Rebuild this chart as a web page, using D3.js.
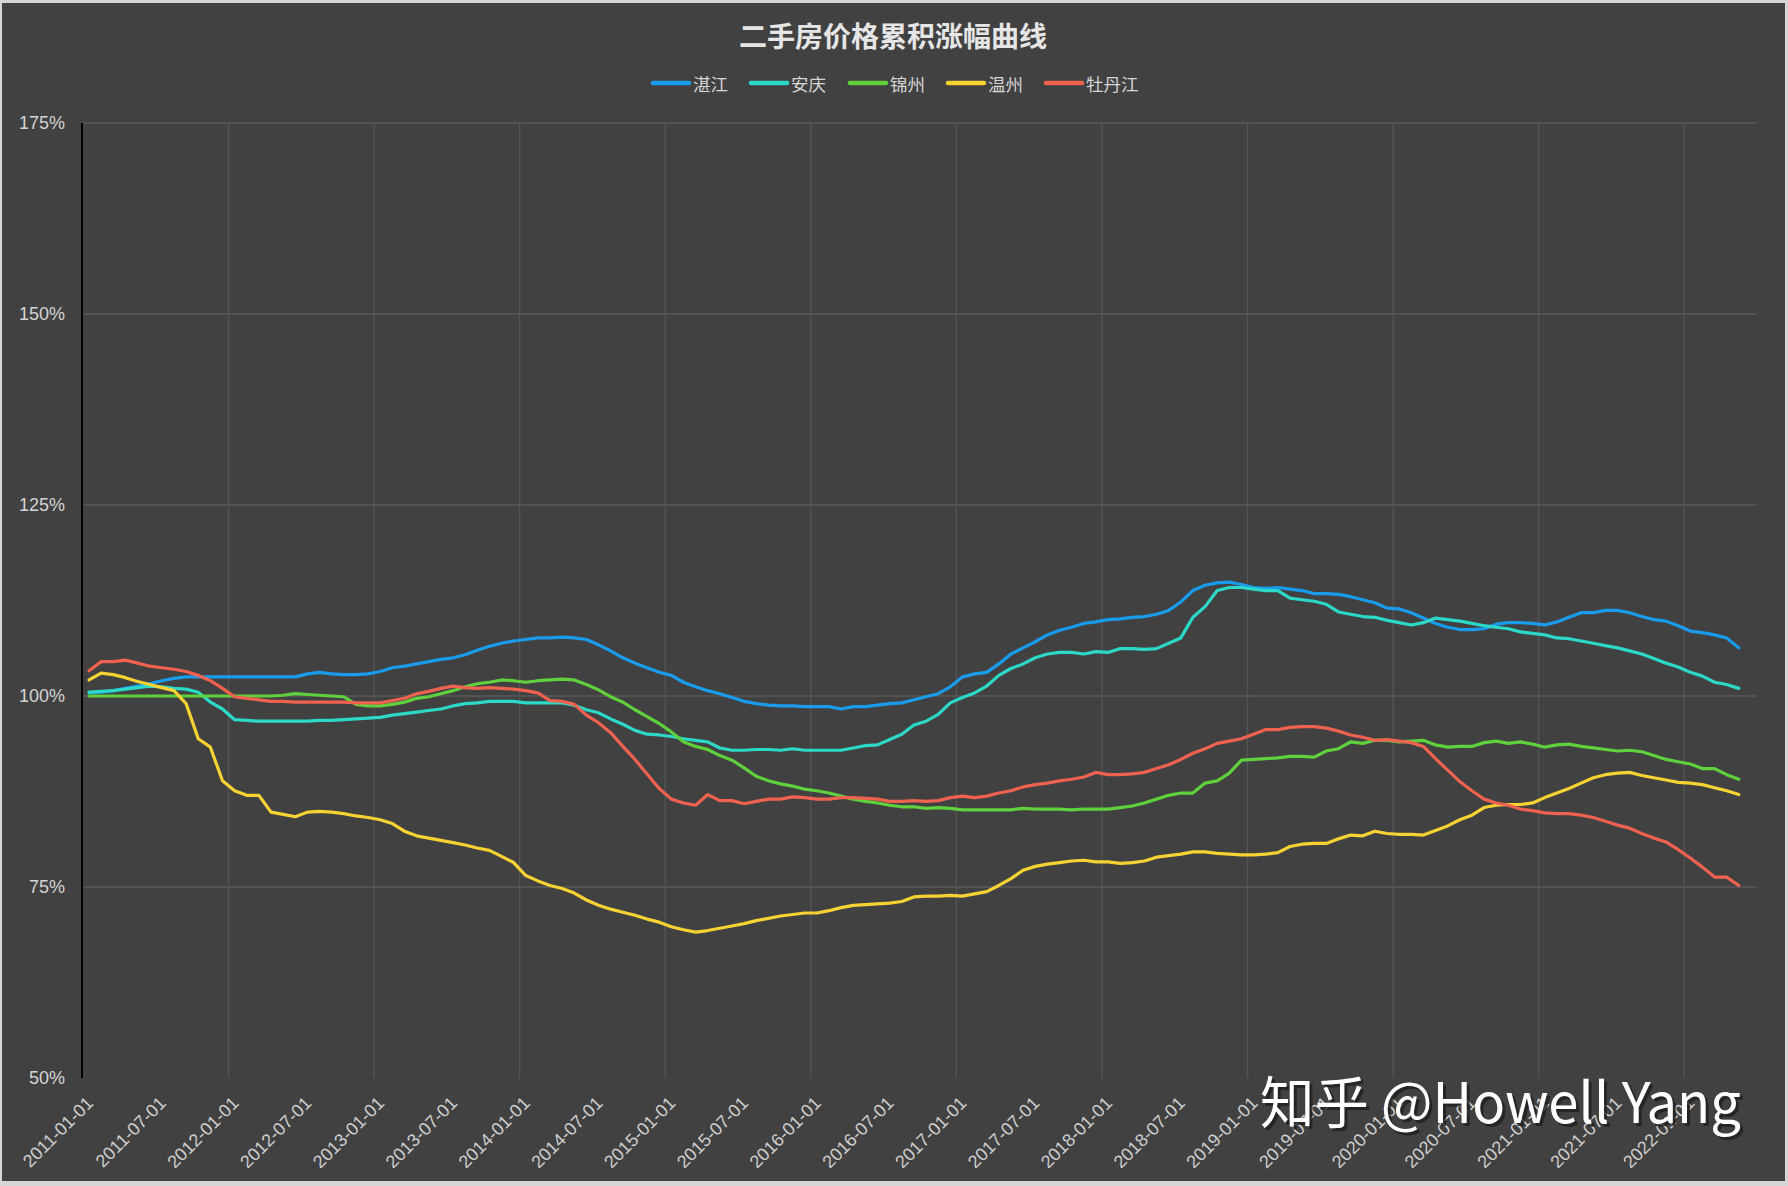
<!DOCTYPE html>
<html>
<head>
<meta charset="utf-8">
<script src="https://cdn.jsdelivr.net/npm/d3@7"></script>
<style>
html,body{margin:0;padding:0;background:#dcdcdc;}
svg{display:block;}
</style>
</head>
<body>
<svg id="chart" width="1788" height="1186"></svg>
<script>
// ---------------- DATA ----------------
const title = "二手房价格累积涨幅曲线";
const seriesNames = ["湛江", "安庆", "锦州", "温州", "牡丹江"];
const seriesColors = ["#1a9cec", "#2cd9c8", "#5fd13d", "#f7d233", "#ef6250"];

// monthly categories 2011-01 .. 2022-06
const startYear = 2011, monthCount = 138;
const categories = [];
for (let i = 0; i < monthCount; i++) {
  const yy = startYear + Math.floor(i / 12), mm = (i % 12) + 1;
  categories.push(yy + "-" + String(mm).padStart(2, "0") + "-01");
}
const xTickLabels = ["2011-01-01","2011-07-01","2012-01-01","2012-07-01","2013-01-01","2013-07-01",
  "2014-01-01","2014-07-01","2015-01-01","2015-07-01","2016-01-01","2016-07-01","2017-01-01",
  "2017-07-01","2018-01-01","2018-07-01","2019-01-01","2019-07-01","2020-01-01","2020-07-01",
  "2021-01-01","2021-07-01","2022-01-01"];
const gridYears = ["2012-01-01","2013-01-01","2014-01-01","2015-01-01","2016-01-01","2017-01-01",
  "2018-01-01","2019-01-01","2020-01-01","2021-01-01","2022-01-01"];
const yTicks = [50, 75, 100, 125, 150, 175];

const zhanjiang = [100.4,100.5,100.7,101.0,101.3,101.6,102.0,102.3,102.5,102.5,
102.5,102.5,102.5,102.5,102.5,102.5,102.5,102.5,102.9,103.1,
102.9,102.8,102.8,102.9,103.2,103.7,103.9,104.2,104.5,104.8,
105.0,105.4,106.0,106.5,106.9,107.2,107.4,107.6,107.6,107.7,
107.6,107.4,106.7,105.9,105.0,104.3,103.7,103.1,102.7,101.8,
101.2,100.7,100.3,99.8,99.3,99.0,98.8,98.7,98.7,98.6,
98.6,98.6,98.3,98.6,98.6,98.8,99.0,99.1,99.5,99.9,
100.3,101.2,102.5,102.9,103.1,104.2,105.5,106.3,107.1,108.0,
108.6,109.0,109.5,109.7,110.0,110.1,110.3,110.4,110.7,111.2,
112.3,113.8,114.5,114.8,114.9,114.6,114.2,114.1,114.2,114.0,
113.8,113.4,113.4,113.3,113.0,112.6,112.2,111.5,111.4,110.9,
110.2,109.5,109.0,108.7,108.7,108.8,109.4,109.6,109.6,109.5,
109.3,109.7,110.3,110.9,110.9,111.2,111.2,110.9,110.4,110.0,
109.8,109.2,108.5,108.3,108.0,107.6,106.3];

const anqing = [100.5,100.6,100.7,100.9,101.1,101.3,101.2,101.0,100.9,100.5,
99.2,98.3,96.9,96.8,96.7,96.7,96.7,96.7,96.7,96.8,
96.8,96.9,97.0,97.1,97.2,97.5,97.7,97.9,98.1,98.3,
98.7,99.0,99.1,99.3,99.3,99.3,99.1,99.1,99.1,99.1,
98.8,98.2,97.8,97.0,96.3,95.5,95.0,94.9,94.7,94.4,
94.2,94.0,93.2,92.9,92.9,93.0,93.0,92.9,93.1,92.9,
92.9,92.9,92.9,93.2,93.5,93.6,94.3,95.0,96.2,96.7,
97.6,99.1,99.8,100.4,101.3,102.7,103.6,104.2,105.0,105.5,
105.7,105.7,105.5,105.8,105.7,106.2,106.2,106.1,106.2,106.9,
107.6,110.3,111.7,113.8,114.2,114.2,114.0,113.8,113.8,112.8,
112.6,112.4,112.0,111.0,110.7,110.4,110.3,109.9,109.6,109.3,
109.6,110.2,110.0,109.8,109.5,109.2,109.0,108.8,108.4,108.2,
108.0,107.6,107.5,107.2,106.9,106.6,106.3,105.9,105.5,104.9,
104.3,103.8,103.1,102.6,101.8,101.5,101.0];

const jinzhou = [100,100,100,100,100,100,100,100,100,100,
100,100,100,100,100,100,100.1,100.3,100.2,100.1,
100.0,99.9,98.9,98.7,98.7,98.9,99.2,99.7,99.9,100.3,
100.7,101.2,101.6,101.8,102.1,102.0,101.8,102.0,102.1,102.2,
102.1,101.5,100.8,99.9,99.2,98.2,97.3,96.4,95.3,94.0,
93.4,93.0,92.2,91.6,90.6,89.5,88.9,88.5,88.2,87.8,
87.6,87.3,86.9,86.5,86.2,86.0,85.7,85.5,85.5,85.3,
85.4,85.3,85.1,85.1,85.1,85.1,85.1,85.3,85.2,85.2,
85.2,85.1,85.2,85.2,85.2,85.4,85.6,86.0,86.5,87.0,
87.3,87.3,88.6,88.9,89.9,91.6,91.7,91.8,91.9,92.1,
92.1,92.0,92.8,93.1,94.0,93.8,94.2,94.2,94.0,94.1,
94.2,93.6,93.3,93.4,93.4,93.9,94.1,93.8,94.0,93.7,
93.3,93.6,93.7,93.4,93.2,93.0,92.8,92.9,92.7,92.2,
91.7,91.4,91.1,90.5,90.5,89.7,89.1];

const wenzhou = [102.1,103.0,102.8,102.4,101.9,101.5,101.1,100.7,99.0,94.4,
93.3,88.9,87.6,87.0,87.0,84.8,84.5,84.2,84.8,84.9,
84.8,84.6,84.3,84.1,83.8,83.3,82.3,81.7,81.4,81.1,
80.8,80.5,80.1,79.8,79.0,78.2,76.5,75.8,75.2,74.8,
74.2,73.3,72.6,72.1,71.7,71.3,70.8,70.4,69.8,69.4,
69.1,69.3,69.6,69.9,70.2,70.6,70.9,71.2,71.4,71.6,
71.6,71.9,72.3,72.6,72.7,72.8,72.9,73.1,73.7,73.8,
73.8,73.9,73.8,74.1,74.4,75.2,76.1,77.2,77.7,78.0,
78.2,78.4,78.5,78.3,78.3,78.1,78.2,78.4,78.9,79.1,
79.3,79.6,79.6,79.4,79.3,79.2,79.2,79.3,79.5,80.3,
80.6,80.7,80.7,81.3,81.8,81.7,82.3,82.0,81.9,81.9,
81.8,82.4,83.0,83.8,84.4,85.4,85.7,85.8,85.8,86.0,
86.7,87.3,87.9,88.6,89.3,89.7,89.9,90.0,89.6,89.3,
89.0,88.7,88.6,88.4,88.0,87.6,87.1];

const mudanjiang = [103.3,104.5,104.5,104.7,104.3,103.9,103.7,103.5,103.2,102.7,
102.0,101.0,99.9,99.7,99.5,99.3,99.3,99.2,99.2,99.2,
99.2,99.2,99.1,99.1,99.1,99.4,99.7,100.3,100.6,101.0,
101.3,101.1,101.0,101.1,101.0,100.9,100.7,100.4,99.4,99.3,
98.9,97.5,96.5,95.2,93.4,91.7,89.8,87.9,86.5,86.0,
85.7,87.1,86.3,86.3,85.9,86.2,86.5,86.5,86.8,86.7,
86.5,86.5,86.7,86.7,86.6,86.5,86.2,86.2,86.3,86.2,
86.3,86.7,86.9,86.7,86.9,87.3,87.6,88.1,88.4,88.6,
88.9,89.1,89.4,90.0,89.7,89.7,89.8,90.0,90.5,91.0,
91.7,92.5,93.1,93.8,94.1,94.4,95.0,95.6,95.6,95.9,
96.0,96.0,95.8,95.4,94.9,94.6,94.2,94.3,94.1,93.9,
93.4,91.8,90.3,88.8,87.6,86.5,86.0,85.7,85.2,85.0,
84.7,84.6,84.6,84.4,84.1,83.6,83.1,82.7,82.0,81.4,
80.9,79.9,78.8,77.6,76.3,76.3,75.2];

const seriesValues = [zhanjiang, anqing, jinzhou, wenzhou, mudanjiang];

// ---------------- DRAW ----------------
const W = 1788, H = 1186;
const svg = d3.select("#chart");
const M = {left: 83, right: 1757, top: 123, bottom: 1078};

// frame + background
svg.append("rect").attr("x",0).attr("y",0).attr("width",W).attr("height",H).attr("fill","#d6d6d6");
svg.append("rect").attr("x",2).attr("y",3).attr("width",W-5).attr("height",H-8).attr("fill","#414141");

const x = d3.scaleBand().domain(categories).range([M.left, M.right]).paddingInner(0).paddingOuter(0);
const y = d3.scaleLinear().domain([50, 175]).range([M.bottom, M.top]);
const bw = x.bandwidth();

// horizontal grid lines
svg.append("g").selectAll("line").data(yTicks.filter(v => v > 50)).join("line")
  .attr("x1", M.left).attr("x2", M.right)
  .attr("y1", d => y(d)).attr("y2", d => y(d))
  .attr("stroke", "#5a5a5a").attr("stroke-width", 1.5);

// vertical grid lines (yearly, at band boundaries)
svg.append("g").selectAll("line").data(gridYears).join("line")
  .attr("x1", d => x(d)).attr("x2", d => x(d))
  .attr("y1", M.top).attr("y2", M.bottom)
  .attr("stroke", "#555555").attr("stroke-width", 1.3);

// y axis line
svg.append("line").attr("x1", M.left - 1).attr("x2", M.left - 1)
  .attr("y1", M.top).attr("y2", M.bottom)
  .attr("stroke", "#000").attr("stroke-width", 2);

// y labels
svg.append("g").selectAll("text").data(yTicks).join("text")
  .attr("x", 65).attr("y", d => y(d))
  .attr("text-anchor", "end").attr("dominant-baseline", "central")
  .attr("font-family", "Liberation Sans, Arial, sans-serif").attr("font-size", 18)
  .attr("fill", "#d4d4d4")
  .text(d => d + "%");

// x labels
svg.append("g").selectAll("text").data(xTickLabels).join("text")
  .attr("transform", d => `translate(${x(d) + bw / 2 + 1},${1100}) rotate(-45)`)
  .attr("text-anchor", "end").attr("dominant-baseline", "central")
  .attr("font-family", "Liberation Sans, Arial, sans-serif").attr("font-size", 18)
  .attr("fill", "#cfcfcf")
  .text(d => d);

// lines
const line = d3.line().x((d, i) => x(categories[i]) + bw / 2).y(d => y(d)).curve(d3.curveLinear);
svg.append("g").selectAll("path").data(seriesValues).join("path")
  .attr("d", d => line(d))
  .attr("fill", "none")
  .attr("stroke", (d, i) => seriesColors[i])
  .attr("stroke-width", 3.2)
  .attr("stroke-linejoin", "round").attr("stroke-linecap", "round");

// title
svg.append("text").attr("x", 893).attr("y", 35)
  .attr("text-anchor", "middle").attr("dominant-baseline", "central")
  .attr("font-family", "Noto Sans CJK SC, sans-serif").attr("font-size", 28).attr("font-weight", "bold")
  .attr("fill", "#e6e6e6").text(title);

// legend
const legendX = [651, 749, 848, 946, 1044];
const lg = svg.append("g").selectAll("g").data(seriesNames).join("g")
  .attr("transform", (d, i) => `translate(${legendX[i]},83)`);
lg.append("line").attr("x1", 2).attr("x2", 38).attr("y1", 0).attr("y2", 0)
  .attr("stroke", (d, i) => seriesColors[i]).attr("stroke-width", 4.5).attr("stroke-linecap", "round");
lg.append("text").attr("x", 42).attr("y", 0).attr("dominant-baseline", "central")
  .attr("font-family", "Noto Sans CJK SC, sans-serif").attr("font-size", 17.5)
  .attr("fill", "#d6d6d6").text(d => d);

// watermark
const wm = "知乎 @Howell Yang";
svg.append("text").attr("x", 1263).attr("y", 1126)
  .attr("font-family", "Noto Sans CJK SC, sans-serif").attr("font-size", 56)
  .attr("textLength", 481).attr("lengthAdjust", "spacingAndGlyphs")
  .attr("fill", "#1c1c1c").attr("opacity", 0.75).text(wm);
svg.append("text").attr("x", 1260).attr("y", 1123)
  .attr("font-family", "Noto Sans CJK SC, sans-serif").attr("font-size", 56)
  .attr("textLength", 481).attr("lengthAdjust", "spacingAndGlyphs")
  .attr("fill", "#ffffff").text(wm);
</script>
</body>
</html>
